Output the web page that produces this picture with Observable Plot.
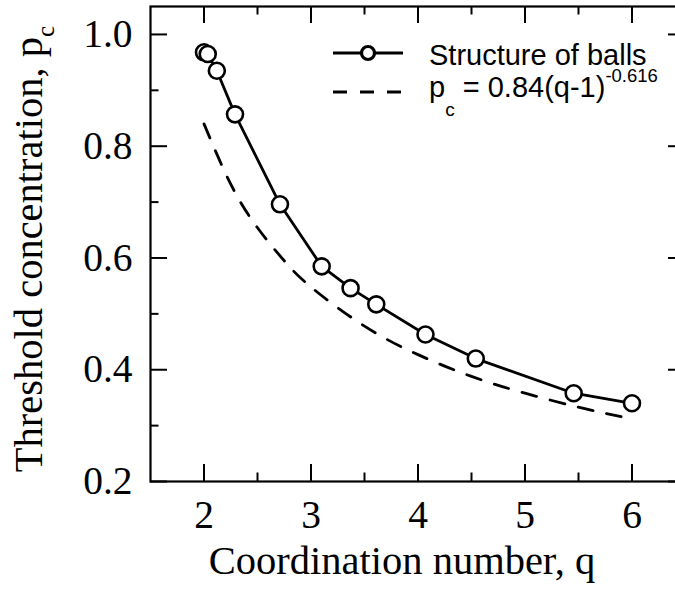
<!DOCTYPE html>
<html><head><meta charset="utf-8">
<script src="https://cdn.jsdelivr.net/npm/d3@7"></script>
<script src="https://cdn.jsdelivr.net/npm/@observablehq/plot@0.6"></script>
<style>html,body{margin:0;padding:0;background:#fff;overflow:hidden} svg{display:block}</style>
</head><body><div id="chart"></div>
<script>
// Structure of balls
const qBalls = [2.00, 2.035, 2.12, 2.29, 2.71, 3.10, 3.37, 3.61, 4.07, 4.54, 5.455, 6.00];
const pBalls = [0.968, 0.965, 0.935, 0.857, 0.696, 0.585, 0.546, 0.517, 0.463, 0.420, 0.358, 0.340];
// Dashed fit curve
const qFit = [2.00, 2.25, 2.50, 2.75, 3.00, 3.50, 4.00, 4.50, 5.00, 5.50, 5.92];
const pFit = [0.840, 0.732, 0.654, 0.595, 0.548, 0.478, 0.427, 0.388, 0.358, 0.333, 0.315];
// Ticks
const xMajor = [2, 3, 4, 5, 6];
const xMinor = [2.5, 3.5, 4.5, 5.5];
const yMajor = [0.2, 0.4, 0.6, 0.8, 1.0];
const yMinor = [0.3, 0.5, 0.7, 0.9];
// Texts
const xLabel = "Coordination number, q";
const yLabel = "Threshold concentration, p";
const ySub = "c";
const legendBalls = "Structure of balls";
const legendFitMain = "p";
const legendFitSub = "c";
const legendFitRest = " = 0.84(q-1)";
const legendFitSup = "-0.616";

const balls = qBalls.map((q, i) => ({q, p: pBalls[i]}));
const fit = qFit.map((q, i) => ({q, p: pFit[i]}));

const W = 675, H = 594;
const mT = 6, mB = 113, mL = 150, mR = -10;
const fw = W - mL - mR, fh = H - mT - mB;
const major = 17, minor = 8.5;
const serif = "Liberation Serif, Times New Roman, serif";
const tickFs = 39.5, titleFs = 40.5;

const svg = Plot.plot({
  width: W, height: H,
  marginTop: mT, marginBottom: mB, marginLeft: mL, marginRight: mR,
  x: {domain: [1.5, 6.5]},
  y: {domain: [0.2, 1.05]},
  style: {fontFamily: serif, fontSize: "38px", background: "white", color: "black"},
  marks: [
    Plot.line(fit, {x: "q", y: "p", stroke: "black", strokeWidth: 2.8, strokeDasharray: "15,14", curve: "natural"}),
    Plot.line(balls, {x: "q", y: "p", stroke: "black", strokeWidth: 2.8}),
    Plot.dot(balls, {x: "q", y: "p", r: 8, fill: "white", stroke: "black", strokeWidth: 2.6}),
    // inward ticks, bottom & top
    Plot.ruleX(xMajor, {x: d => d, insetTop: fh - major, stroke: "black", strokeWidth: 2}),
    Plot.ruleX(xMinor, {x: d => d, insetTop: fh - minor, stroke: "black", strokeWidth: 2}),
    Plot.ruleX(xMajor, {x: d => d, insetBottom: fh - major, stroke: "black", strokeWidth: 2}),
    Plot.ruleX(xMinor, {x: d => d, insetBottom: fh - minor, stroke: "black", strokeWidth: 2}),
    // inward ticks, left & right
    Plot.ruleY(yMajor, {y: d => d, insetRight: fw - major, stroke: "black", strokeWidth: 2}),
    Plot.ruleY(yMinor, {y: d => d, insetRight: fw - minor, stroke: "black", strokeWidth: 2}),
    Plot.ruleY(yMajor, {y: d => d, insetLeft: fw - major, stroke: "black", strokeWidth: 2}),
    Plot.ruleY(yMinor, {y: d => d, insetLeft: fw - minor, stroke: "black", strokeWidth: 2}),
    Plot.frame({stroke: "black", strokeWidth: 2.2}),
    Plot.axisX(xMajor, {tickSize: 0, tickPadding: 18, label: null, fontSize: tickFs}),
    Plot.axisY(yMajor, {tickSize: 0, tickPadding: 18, label: null, fontSize: tickFs, tickFormat: d3.format(".1f")}),
    Plot.text([xLabel], {text: d => d, frameAnchor: "bottom", lineAnchor: "middle", textAnchor: "middle", dx: -16, dy: 80, fontSize: titleFs}),
    Plot.text([yLabel], {text: d => d, frameAnchor: "left", lineAnchor: "middle", textAnchor: "middle", rotate: -90, dx: -121, dy: 5, fontSize: titleFs})
  ]
});

const s = d3.select(svg);
// subscript on the y-axis title
s.selectAll("text").filter(function() { return this.textContent === yLabel; })
  .append("tspan").attr("dy", 12).attr("font-size", 25).text(ySub);

// legend
const sans = "Liberation Sans, Arial, Helvetica, sans-serif";
const g = s.append("g").attr("class", "legend").attr("text-anchor", "start");
g.append("line").attr("x1", 333).attr("x2", 403).attr("y1", 53).attr("y2", 53)
  .attr("stroke", "black").attr("stroke-width", 3);
g.append("circle").attr("cx", 368).attr("cy", 53).attr("r", 6.5)
  .attr("fill", "white").attr("stroke", "black").attr("stroke-width", 3.2);
g.append("text").attr("x", 429).attr("y", 65).attr("text-anchor", "start")
  .attr("font-family", sans).attr("font-size", 29).attr("fill", "black").text(legendBalls);
g.append("line").attr("x1", 333).attr("x2", 402).attr("y1", 92).attr("y2", 92)
  .attr("stroke", "black").attr("stroke-width", 3).attr("stroke-dasharray", "14,13");
const t2 = g.append("text").attr("x", 429).attr("y", 97).attr("text-anchor", "start")
  .attr("font-family", sans).attr("font-size", 29).attr("fill", "black");
t2.append("tspan").text(legendFitMain);
t2.append("tspan").attr("dy", 19).attr("font-size", 19).text(legendFitSub);
t2.append("tspan").attr("dy", -19).attr("font-size", 29).text(legendFitRest);
t2.append("tspan").attr("dy", -15).attr("font-size", 18.5).text(legendFitSup);

document.getElementById("chart").appendChild(svg);
</script>
</body></html>
